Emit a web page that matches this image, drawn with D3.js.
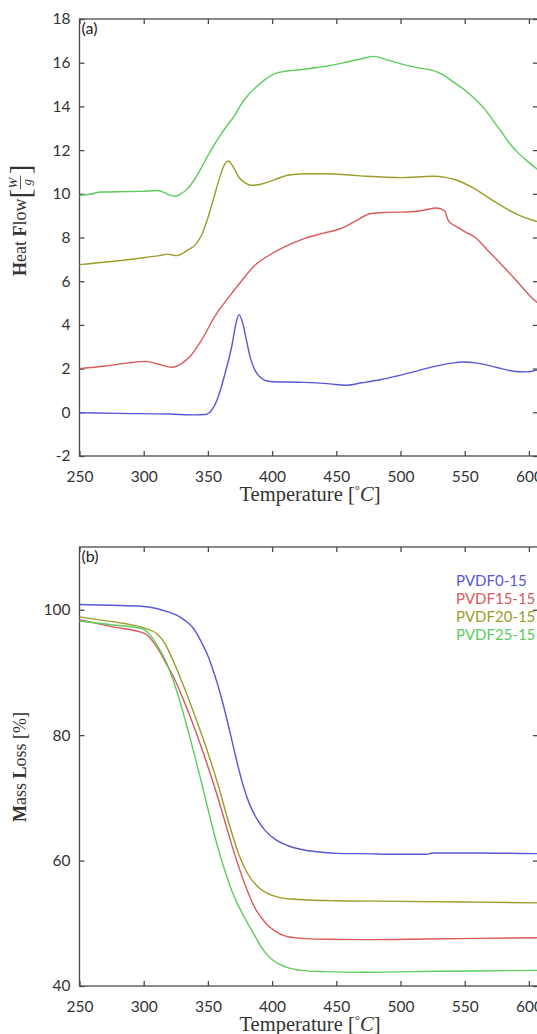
<!DOCTYPE html>
<html>
<head>
<meta charset="utf-8">
<script src="https://cdn.jsdelivr.net/npm/d3@7"></script>
<style>
  body { margin: 0; background: #fff; }
  svg text { font-family: Lato, "Open Sans", sans-serif; }
</style>
</head>
<body>
<div id="chart"></div>
<script>
// series names and colours
var seriesNames = ["PVDF0-15", "PVDF15-15", "PVDF20-15", "PVDF25-15"];
var seriesColors = ["#5858d6", "#d85a5a", "#9c9c2a", "#5ccc5c"];

// x ticks (temperature, °C)
var tempTicks = [250, 300, 350, 400, 450, 500, 550, 600];
var heatTicks = [-2, 0, 2, 4, 6, 8, 10, 12, 14, 16, 18];
var massTicks = [40, 60, 80, 100];

// (a) DSC heat flow, [T, W/g]
var dscPVDF0 = [[250,-0.02],[280,-0.05],[320,-0.08],[340,-0.12],[348,-0.1],[353,0.1],[358,0.7],[363,1.7],[368.5,3.0],[372,4.1],[374.2,4.47],[377,4.1],[380,3.3],[383,2.5],[386.7,1.92],[390,1.65],[394.5,1.46],[400,1.4],[425,1.37],[445,1.3],[457,1.24],[470,1.35],[485,1.5],[497,1.66],[510,1.85],[525,2.08],[540,2.25],[548,2.3],[560,2.25],[575,2.05],[588,1.88],[598,1.85],[607,1.95]];
var dscPVDF15 = [[250,2.0],[270,2.12],[288,2.26],[302,2.33],[311,2.21],[322,2.06],[330,2.25],[336,2.55],[345,3.3],[355.5,4.4],[366,5.25],[376,6.0],[387,6.75],[398,7.2],[410,7.58],[425,7.95],[440,8.2],[453,8.4],[465,8.75],[477,9.1],[490,9.15],[505,9.17],[518,9.25],[528,9.35],[534.7,9.2],[536,8.95],[537.5,8.75],[545,8.45],[552,8.2],[557,8.05],[568,7.41],[578,6.8],[590,6.04],[603,5.2],[607,5.0]];
var dscPVDF20 = [[250,6.76],[275,6.9],[298,7.06],[312,7.17],[319,7.24],[322,7.2],[326,7.17],[331,7.3],[335,7.45],[340,7.65],[345,8.1],[350,8.9],[355,9.9],[360,10.9],[363,11.35],[366,11.5],[369,11.3],[374,10.77],[379,10.5],[384,10.39],[392,10.45],[402,10.65],[412,10.85],[425,10.92],[442,10.92],[460,10.86],[474,10.8],[500,10.74],[525,10.8],[535,10.75],[544,10.62],[554,10.35],[564,10.0],[573,9.65],[583,9.3],[593,9.0],[603,8.79],[607,8.72]];
var dscPVDF25 = [[250,9.93],[258,9.98],[267,10.08],[285,10.1],[298,10.11],[311,10.15],[316.6,10.04],[320,9.95],[324.4,9.89],[329,10.0],[334.7,10.27],[340,10.7],[345,11.2],[350,11.75],[355.5,12.3],[361,12.8],[366,13.2],[371,13.6],[376,14.1],[381,14.5],[387,14.85],[394,15.2],[402,15.5],[412,15.62],[422,15.68],[435,15.78],[448,15.9],[458,16.03],[470,16.18],[479,16.29],[490,16.12],[505,15.88],[515,15.75],[525,15.65],[533,15.45],[541,15.12],[550,14.75],[559,14.28],[566,13.85],[572,13.36],[579,12.8],[585,12.3],[592,11.85],[598,11.53],[607,11.1]];

// (b) TGA mass loss, [T, %]
var tgaPVDF0 = [[250,100.83],[275,100.7],[298,100.56],[310,100.2],[319,99.65],[326,99.1],[332,98.3],[338,97.2],[342.5,95.8],[346,94.4],[350.3,92.5],[354,90.4],[358,87.8],[362,84.8],[366,81.5],[370,78.0],[374,74.6],[378,71.6],[382,69.2],[388,66.7],[395,64.7],[403,63.3],[412,62.4],[422,61.8],[435,61.4],[450,61.15],[470,61.1],[500,61.0],[520,61.0],[525,61.2],[560,61.2],[607,61.1]];
var tgaPVDF15 = [[250,98.4],[275,97.3],[301,96.2],[310,94.1],[317,91.6],[324.4,88.8],[331,85.6],[337.4,82.3],[344,78.6],[350,75.0],[356,71.2],[362,67.1],[368,62.9],[374,59.0],[379,56.1],[383.3,53.9],[387,52.3],[391.3,51.0],[396,49.8],[402,48.8],[410,48.0],[423,47.6],[440,47.45],[470,47.4],[520,47.5],[560,47.6],[607,47.7]];
var tgaPVDF20 = [[250,98.85],[268,98.3],[285,97.8],[300,97.1],[310,96.2],[316,94.8],[322,92.3],[330,88.4],[340,83.0],[350,77.2],[358,72.0],[366,66.2],[374,61.0],[381,57.9],[388,56.0],[396,54.8],[406,54.1],[420,53.8],[450,53.6],[500,53.5],[550,53.4],[607,53.25]];
var tgaPVDF25 = [[250,98.2],[275,97.6],[298.4,97.0],[304,96.2],[308.8,94.9],[312,93.8],[316.6,92.1],[322,89.3],[327,86.2],[333,81.9],[339,77.3],[345.2,72.3],[352,66.6],[358,61.9],[364,57.9],[369,55.0],[373,53.1],[377,51.5],[381,50.0],[386,48.2],[391,46.4],[396,45.0],[402,43.9],[410,43.1],[423,42.5],[440,42.3],[470,42.2],[510,42.3],[560,42.4],[607,42.5]];

var W = 537, H = 1034;
var axisColor = "#4a4a4a";
var serif = "'Liberation Serif', serif";

var svg = d3.select("#chart").append("svg")
    .attr("width", W)
    .attr("height", H);

// shared temperature scale
var x = d3.scaleLinear().domain([250, 607]).range([79.5, 537.9]);

function drawPanel(p) {
    var y = d3.scaleLinear().domain(p.yDomain).range(p.yRange);
    var g = svg.append("g");
    var x0 = x.range()[0], x1 = x.range()[1];
    var yTop = p.yRange[1], yBot = p.yRange[0];

    // axes on all four sides, ticks pointing inward
    g.append("g")
        .attr("transform", "translate(0," + yBot + ")")
        .call(d3.axisBottom(x).tickValues(tempTicks).tickSize(-5).tickPadding(15).tickFormat(function (d) { return String(d); }));
    g.append("g")
        .attr("transform", "translate(0," + yTop + ")")
        .call(d3.axisTop(x).tickValues(tempTicks).tickSize(-5).tickFormat(""));
    g.append("g")
        .attr("transform", "translate(" + x0 + ",0)")
        .call(d3.axisLeft(y).tickValues(p.yTicks).tickSize(-5).tickPadding(9).tickFormat(function (d) { return String(d); }));
    g.append("g")
        .attr("transform", "translate(" + x1 + ",0)")
        .call(d3.axisRight(y).tickValues(p.yTicks).tickSize(-5).tickFormat(""));

    g.selectAll(".domain").remove();
    g.selectAll(".tick line").attr("stroke", axisColor).attr("stroke-width", 1.3);
    g.selectAll(".tick text")
        .attr("fill", "#333")
        .style("font-family", "Lato, sans-serif")
        .style("font-size", "15.5px");

    // frame
    g.append("rect")
        .attr("x", x0).attr("y", yTop)
        .attr("width", x1 - x0).attr("height", yBot - yTop)
        .attr("fill", "none")
        .attr("stroke", axisColor)
        .attr("stroke-width", 1.3);

    // curves
    var line = d3.line()
        .x(function (d) { return x(d[0]); })
        .y(function (d) { return y(d[1]); })
        .curve(d3.curveMonotoneX);
    p.series.forEach(function (s, i) {
        g.append("path")
            .datum(s)
            .attr("fill", "none")
            .attr("stroke", seriesColors[i])
            .attr("stroke-width", 1.4)
            .attr("d", line);
    });

    // panel tag
    g.append("text")
        .attr("x", x0 + 2)
        .attr("y", yTop + 15)
        .attr("fill", "#222")
        .style("font-size", "16px")
        .text(p.tag);

    // x label
    var xl = g.append("text")
        .attr("x", 310)
        .attr("y", yBot + 45)
        .attr("text-anchor", "middle")
        .attr("fill", "#333")
        .style("font-family", serif)
        .style("font-size", "20.5px");
    xl.append("tspan").text("Temperature [");
    xl.append("tspan").attr("dy", -7).style("font-size", "13px").text("\u00b0");
    xl.append("tspan").attr("dy", 7).style("font-style", "italic").text("C");
    xl.append("tspan").text("]");

    return y;
}

drawPanel({
    yDomain: [-2, 18], yRange: [456, 19], yTicks: heatTicks,
    series: [dscPVDF0, dscPVDF15, dscPVDF20, dscPVDF25], tag: "(a)"
});
drawPanel({
    yDomain: [40, 110], yRange: [986, 547], yTicks: massTicks,
    series: [tgaPVDF0, tgaPVDF15, tgaPVDF20, tgaPVDF25], tag: "(b)"
});

// y label, top: Heat Flow [W/g]
var yl1 = svg.append("g").attr("transform", "translate(26,276) rotate(-90)");
var t1 = yl1.append("text")
    .attr("fill", "#333")
    .style("font-family", serif)
    .style("font-size", "18px");
t1.append("tspan").style("font-weight", "bold").text("H");
t1.append("tspan").text("eat ");
t1.append("tspan").style("font-weight", "bold").text("F");
t1.append("tspan").text("low ");
var L = t1.node().getComputedTextLength();
yl1.append("text").attr("x", L).attr("y", 4).attr("fill", "#333")
    .style("font-family", serif).style("font-size", "30px").text("[");
yl1.append("text").attr("x", L + 10).attr("y", -9).attr("fill", "#333")
    .style("font-family", serif).style("font-size", "13px").style("font-style", "italic").text("W");
yl1.append("line").attr("x1", L + 9).attr("x2", L + 23).attr("y1", -5.5).attr("y2", -5.5)
    .attr("stroke", "#333").attr("stroke-width", 0.8);
yl1.append("text").attr("x", L + 13).attr("y", 5).attr("fill", "#333")
    .style("font-family", serif).style("font-size", "13px").style("font-style", "italic").text("g");
yl1.append("text").attr("x", L + 24).attr("y", 4).attr("fill", "#333")
    .style("font-family", serif).style("font-size", "30px").text("]");

// y label, bottom: Mass Loss [%]
var t2 = svg.append("text")
    .attr("transform", "translate(26,767) rotate(-90)")
    .attr("text-anchor", "middle")
    .attr("fill", "#333")
    .style("font-family", serif)
    .style("font-size", "18px");
t2.append("tspan").style("font-weight", "bold").text("M");
t2.append("tspan").text("ass ");
t2.append("tspan").style("font-weight", "bold").text("L");
t2.append("tspan").text("oss [%]");

// legend in panel (b)
svg.selectAll(".legend")
    .data(seriesNames)
    .enter()
    .append("text")
    .attr("class", "legend")
    .attr("x", 456)
    .attr("y", function (d, i) { return 586 + i * 18; })
    .attr("fill", function (d, i) { return seriesColors[i]; })
    .style("font-size", "15px")
    .text(function (d) { return d; });
</script>
</body>
</html>
